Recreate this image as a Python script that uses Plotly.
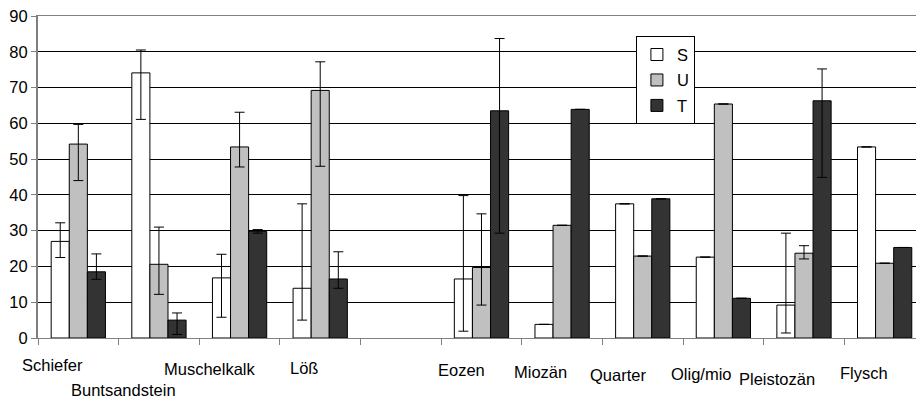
import plotly.graph_objects as go

categories = ["Schiefer", "Buntsandstein", "Muschelkalk", "Löß", " ", "Eozen",
              "Miozän", "Quarter", "Olig/mio", "Pleistozän", "Flysch"]

S_vals = [27.0, 74.1, 16.8, 13.9, None, 16.5, 3.8, 37.5, 22.6, 9.2, 53.4]
U_vals = [54.2, 20.6, 53.4, 69.2, None, 19.7, 31.5, 22.9, 65.4, 23.7, 20.9]
T_vals = [18.5, 5.0, 29.8, 16.5, None, 63.5, 63.9, 38.9, 11.1, 66.3, 25.3]

# error bar ends (upper / lower)
S_hi = [32.2, 80.5, 23.4, 37.5, None, 39.8, None, None, None, 29.3, None]
S_lo = [22.5, 61.1, 5.8, 5.0, None, 1.9, None, None, None, 1.4, None]
U_hi = [59.7, 31.0, 63.1, 77.2, None, 34.7, None, None, None, 25.8, None]
U_lo = [44.0, 12.2, 47.8, 48.0, None, 9.2, None, None, None, 22.1, None]
T_hi = [23.5, 7.0, 30.3, 24.1, None, 83.7, None, None, None, 75.2, None]
T_lo = [16.4, 1.0, 29.3, 13.9, None, 29.3, None, None, None, 44.9, None]

y_ticks = [0, 10, 20, 30, 40, 50, 60, 70, 80, 90]

# label placement offsets (styling)
label_dx = [-25.5, -35.7, -29.6, -16.6, 0, -20, -22, -24.5, -22, -26.6, -21]
label_dy = [-27, -52, -31, -29.7, 0, -32, -34, -37, -36, -41, -35]

FONT = "Liberation Sans, Arial, sans-serif"


def plus(v, hi):
    return [None if (a is None or b is None) else b - a for a, b in zip(v, hi)]


def minus(v, lo):
    return [None if (a is None or b is None) else a - b for a, b in zip(v, lo)]


fig = go.Figure()
series = [("S", S_vals, S_hi, S_lo, "#ffffff"),
          ("U", U_vals, U_hi, U_lo, "#c0c0c0"),
          ("T", T_vals, T_hi, T_lo, "#333333")]
for name, vals, hi, lo, col in series:
    fig.add_trace(go.Bar(
        x=categories, y=vals, name=name, legendgroup=name,
        marker=dict(color=col, line=dict(color="#000000", width=1)),
        error_y=dict(type="data", symmetric=False, array=plus(vals, hi),
                     arrayminus=minus(vals, lo), color="#000000",
                     thickness=1, width=5),
    ))

for i, c in enumerate(categories):
    if c.strip() == "":
        continue
    fig.add_annotation(x=c, xref="x", y=0, yref="y", text=c, showarrow=False,
                       xanchor="center", yanchor="middle", borderpad=0,
                       xshift=label_dx[i], yshift=label_dy[i],
                       font=dict(family=FONT, size=16.5, color="#000000"))

fig.update_layout(
    template="none",
    width=916, height=401, autosize=False,
    margin=dict(l=38, r=0, t=16, b=63, pad=0, autoexpand=False),
    paper_bgcolor="#ffffff", plot_bgcolor="#ffffff",
    barmode="group", bargap=0.327, bargroupgap=0,
    font=dict(family=FONT, size=16.5, color="#000000"),
    legend=dict(x=0.681, y=0.937, xanchor="left", yanchor="top",
                bordercolor="#000000", borderwidth=1, bgcolor="#ffffff",
                tracegroupgap=1, itemwidth=30,
                font=dict(family=FONT, size=16.5, color="#000000")),
    showlegend=True,
)
fig.update_xaxes(type="category", categoryorder="array", categoryarray=categories,
                 range=[-0.5, 10.389], showticklabels=False, automargin=False,
                 ticks="outside", tickson="boundaries", ticklen=6,
                 tickcolor="#808080", showline=True, linecolor="#808080",
                 linewidth=1, mirror=True, showgrid=False, zeroline=False)
fig.update_yaxes(range=[0, 90], tickvals=y_ticks, ticks="outside", ticklen=5,
                 automargin=False,
                 tickcolor="#808080", showline=True, linecolor="#808080",
                 linewidth=2, showgrid=True, gridcolor="#000000", gridwidth=1,
                 zeroline=False, tickfont=dict(family=FONT, size=16.5, color="#000000"))

fig.write_html("out.html", config={"displayModeBar": False},
               post_script="document.body.style.margin='0';document.body.style.overflow='hidden';")
